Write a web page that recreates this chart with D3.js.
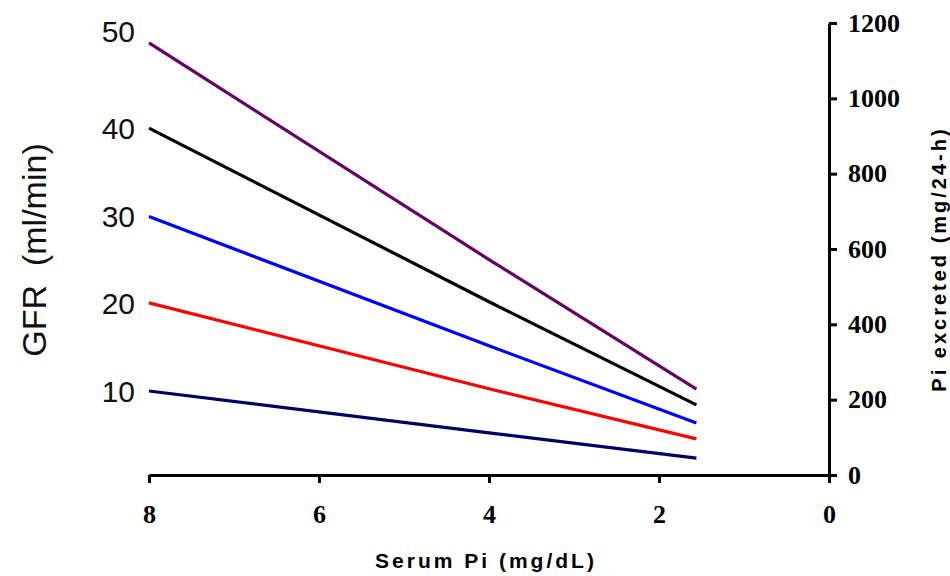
<!DOCTYPE html>
<html>
<head>
<meta charset="utf-8">
<script src="https://cdn.jsdelivr.net/npm/d3@7"></script>
<style>
  body { margin: 0; background: #fff; }
  svg { display: block; }
</style>
</head>
<body>
<div id="chartArea"></div>
<script>
// Data (Pi excreted, mg/24-h, against serum Pi)
const serumPi = [8, 4, 1.56];
const gfrLabels = ["50", "40", "30", "20", "10"];
const gfr50 = [1147, 572, 228];
const gfr40 = [921, 460, 186];
const gfr30 = [686, 343, 138];
const gfr20 = [457, 229, 96];
const gfr10 = [223, 112, 45];
const xTicks = [8, 6, 4, 2, 0];
const yTicks = [0, 200, 400, 600, 800, 1000, 1200];

const width = 950, height = 576;
const colors = ["#660066", "#000000", "#0000ff", "#ff0000", "#000066"];
const seriesList = [gfr50, gfr40, gfr30, gfr20, gfr10];

const x = d3.scaleLinear().domain([8, 0]).range([149, 829]);
const y = d3.scaleLinear().domain([0, 1200]).range([475, 23]);

const svg = d3.select("#chartArea")
    .append("svg")
    .attr("width", width)
    .attr("height", height);

// Lines
const line = d3.line()
    .x((d, i) => x(serumPi[i]))
    .y(d => y(d));

svg.append("g")
    .selectAll("path")
    .data(seriesList)
    .join("path")
    .attr("d", d => line(d))
    .attr("fill", "none")
    .attr("stroke", (d, i) => colors[i])
    .attr("stroke-width", 3.2);

// GFR labels at the start of each line
svg.append("g")
    .selectAll("text")
    .data(seriesList)
    .join("text")
    .attr("x", 135)
    .attr("y", (d, i) => y(d[0]) + (i === 0 ? -12 : 0))
    .attr("dy", "0.36em")
    .attr("text-anchor", "end")
    .style("font-family", "Liberation Sans, Arial, sans-serif")
    .style("font-size", "30px")
    .style("fill", "#111")
    .text((d, i) => gfrLabels[i]);

// X axis
const xAxis = svg.append("g")
    .attr("transform", `translate(0,${y(0)})`)
    .call(d3.axisBottom(x).tickValues(xTicks).tickSize(8).tickSizeOuter(0).tickFormat(d3.format("d")));

xAxis.selectAll(".tick text")
    .attr("y", 48)
    .attr("dy", null)
    .style("font-family", "Liberation Serif, Times New Roman, serif")
    .style("font-weight", "bold")
    .style("font-size", "26px")
    .style("fill", "#000");

// Right axis
const yAxis = svg.append("g")
    .attr("transform", `translate(${x(0)},0)`)
    .call(d3.axisRight(y).tickValues(yTicks).tickSize(8).tickSizeOuter(0).tickPadding(11).tickFormat(d3.format("d")));

yAxis.selectAll(".tick text")
    .style("font-family", "Liberation Serif, Times New Roman, serif")
    .style("font-weight", "bold")
    .style("font-size", "26px")
    .style("fill", "#000");

svg.selectAll(".domain, .tick line")
    .attr("stroke", "#000")
    .attr("stroke-width", 3);

// Axis titles
svg.append("text")
    .attr("x", 486)
    .attr("y", 568)
    .attr("text-anchor", "middle")
    .style("font-family", "Liberation Sans, Arial, sans-serif")
    .style("font-weight", "bold")
    .style("font-size", "21px")
    .style("letter-spacing", "3px")
    .text("Serum Pi (mg/dL)");

svg.append("text")
    .attr("transform", "translate(946,259) rotate(-90)")
    .attr("text-anchor", "middle")
    .style("font-family", "Liberation Sans, Arial, sans-serif")
    .style("font-weight", "bold")
    .style("font-size", "20px")
    .style("letter-spacing", "3px")
    .text("Pi excreted (mg/24-h)");

svg.append("text")
    .attr("transform", "translate(46,250) rotate(-90)")
    .attr("text-anchor", "middle")
    .style("font-family", "Liberation Sans, Arial, sans-serif")
    .style("font-size", "34px")
    .style("fill", "#111")
    .style("white-space", "pre")
    .text("GFR  (ml/min)");
</script>
</body>
</html>
